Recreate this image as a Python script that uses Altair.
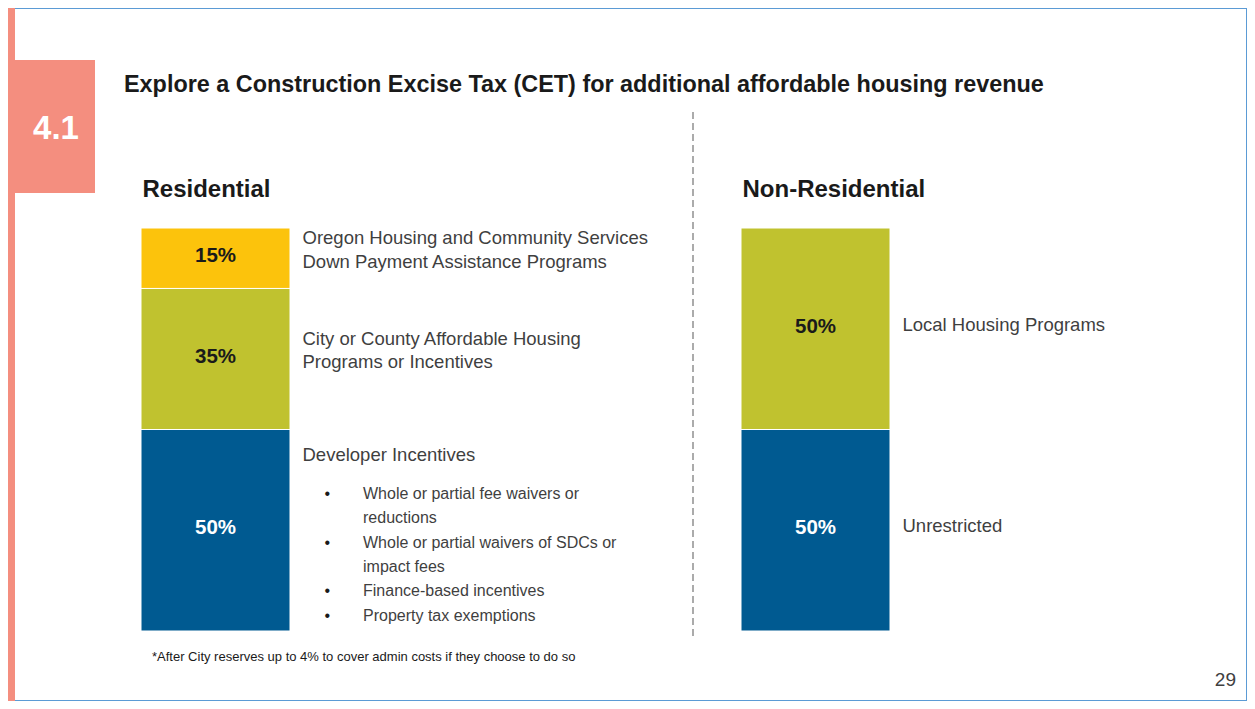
import altair as alt
import pandas as pd

# ---------------- data ----------------
categories = ["Residential", "Non-Residential"]

res_tiers = ["base", "local", "state"]
res_shares = [50, 35, 15]
res_labels = [
    "Developer Incentives",
    "City or County Affordable  Housing\nPrograms or Incentives",
    "Oregon Housing and Community Services\nDown Payment Assistance Programs",
]

nonres_tiers = ["base", "local"]
nonres_shares = [50, 50]
nonres_labels = ["Unrestricted", "Local Housing Programs"]

developer_items = [
    "Whole or partial fee waivers or\nreductions",
    "Whole or partial waivers  of SDCs or\nimpact fees",
    "Finance-based incentives",
    "Property tax exemptions",
]

tier_domain = ["base", "local", "state"]
tier_colors = ["#005A91", "#C0C22F", "#FCC30C"]

title_text = "Explore a Construction Excise Tax (CET) for additional affordable housing revenue"
section_text = "4.1"
footnote_text = "*After City reserves up to 4% to cover admin costs if they choose to do so"
page_text = "29"

# ---------------- table ----------------
rows = []
for cat, tiers, shares, labels in [
    ("Residential", res_tiers, res_shares, res_labels),
    ("Non-Residential", nonres_tiers, nonres_shares, nonres_labels),
]:
    start = 0
    for t, s, l in zip(tiers, shares, labels):
        rows.append(dict(category=cat, tier=t, share=s, label=l,
                         y0=start, y1=start + s, mid=start + s / 2,
                         pct=f"{s}%", multi=("\n" in l)))
        start += s
df = pd.DataFrame(rows)

dev_row = df[(df.category == "Residential") & (df.tier == "base")].iloc[0]
bullet_text = "\n".join(developer_items)
dev_df = pd.DataFrame([dict(category="Residential", mid=dev_row["mid"],
                            items=bullet_text, dot="\u2022")])

FONT = "Liberation Sans"
TXT = "#3f3f3f"
LIST_LH = 24.4
LIST_DY = -36.5

x_enc = alt.X("category:N", sort=categories, axis=None,
              scale=alt.Scale(domain=categories, range=[-92.5, 1107.5],
                              paddingInner=0, paddingOuter=0))
y_scale = alt.Scale(domain=[0, 100], range=[623, 220])
y_mid = alt.Y("mid:Q", scale=y_scale, axis=None)

base = alt.Chart(df)

bars = base.mark_bar(size=149, stroke="white", strokeWidth=1).encode(
    x=x_enc,
    y=alt.Y("y0:Q", scale=y_scale, axis=None),
    y2="y1:Q",
    color=alt.Color("tier:N", scale=alt.Scale(domain=tier_domain, range=tier_colors), legend=None),
)

pct = base.mark_text(font=FONT, fontSize=20.5, fontWeight="bold", dy=-2).encode(
    x=x_enc,
    y=y_mid,
    text="pct:N",
    color=alt.condition(alt.datum.tier == "base", alt.value("white"), alt.value("#1a1a1a")),
)

not_dev = ~((alt.datum.category == "Residential") & (alt.datum.tier == "base"))

desc_multi = base.transform_filter(not_dev).transform_filter(alt.datum.multi).mark_text(
    font=FONT, fontSize=18.5, align="left", baseline="middle", dx=87, dy=-20,
    lineBreak="\n", lineHeight=23.5, color=TXT).encode(
    x=x_enc, y=y_mid, text="label:N",
)

desc_single = base.transform_filter(not_dev).transform_filter(~alt.datum.multi).mark_text(
    font=FONT, fontSize=18.5, align="left", baseline="middle", dx=87, dy=-4,
    color=TXT).encode(
    x=x_enc, y=y_mid, text="label:N",
)

dev_title = base.transform_filter(
    (alt.datum.category == "Residential") & (alt.datum.tier == "base")
).mark_text(font=FONT, fontSize=18.5, align="left", baseline="middle", dx=87, dy=-75.5,
            color=TXT).encode(
    x=x_enc, y=y_mid, text="label:N",
)

dev_items = alt.Chart(dev_df).mark_text(
    font=FONT, fontSize=16, align="left", baseline="middle", dx=147.5, dy=LIST_DY,
    lineBreak="\n", lineHeight=LIST_LH, color=TXT).encode(
    x=x_enc, y=y_mid, text="items:N",
)

# one bullet dot per list item, placed on the first line of that item
dot_layers = []
line_no = 0
for item in developer_items:
    dot_layers.append(
        alt.Chart(dev_df).mark_text(
            font=FONT, fontSize=16, align="left", baseline="middle", dx=109,
            dy=LIST_DY + line_no * LIST_LH, color="#1a1a1a").encode(
            x=x_enc, y=y_mid, text="dot:N")
    )
    line_no += item.count("\n") + 1

cat_df = pd.DataFrame({"category": categories})
headings = alt.Chart(cat_df).mark_text(
    font=FONT, fontSize=24, fontWeight="bold", align="left", baseline="middle",
    dx=-73, color="#1a1a1a").encode(
    x=x_enc,
    y=alt.value(182),
    text="category:N",
)

# ---------------- slide decoration ----------------
one = pd.DataFrame({"k": [0]})
strip = alt.Chart(one).mark_rect(color="#F48E7F").encode(
    x=alt.value(0), x2=alt.value(7), y=alt.value(0), y2=alt.value(693))
box = alt.Chart(one).mark_rect(color="#F48E7F").encode(
    x=alt.value(6), x2=alt.value(87), y=alt.value(52), y2=alt.value(185))
sec = alt.Chart(one).mark_text(font=FONT, fontSize=33, fontWeight="bold", color="white",
                               align="center", baseline="middle").encode(
    x=alt.value(48), y=alt.value(121), text=alt.value(section_text))
title = alt.Chart(one).mark_text(font=FONT, fontSize=23.4, fontWeight="bold", color="#1a1a1a",
                                 align="left", baseline="middle").encode(
    x=alt.value(116), y=alt.value(77), text=alt.value(title_text))
divider = alt.Chart(one).mark_rule(color="#7f7f7f", strokeDash=[7, 4], strokeWidth=1.3).encode(
    x=alt.value(685), y=alt.value(104), y2=alt.value(630))
foot = alt.Chart(one).mark_text(font=FONT, fontSize=13, color="#1a1a1a",
                                align="left", baseline="middle").encode(
    x=alt.value(144), y=alt.value(649), text=alt.value(footnote_text))
page = alt.Chart(one).mark_text(font=FONT, fontSize=19, color="#404040",
                                align="right", baseline="middle").encode(
    x=alt.value(1228), y=alt.value(672), text=alt.value(page_text))

chart = alt.layer(
    strip, box, sec, title, divider, bars, pct, desc_multi, desc_single, dev_title,
    *dot_layers, dev_items, headings, foot, page,
).properties(
    width=1239, height=693,
    autosize=alt.AutoSizeParams(type="none"),
    padding=0,
    background="white",
).configure_view(
    stroke="#5B9BD5", strokeWidth=2,
)

chart.save("out.html", embed_options={"renderer": "svg", "actions": False})
